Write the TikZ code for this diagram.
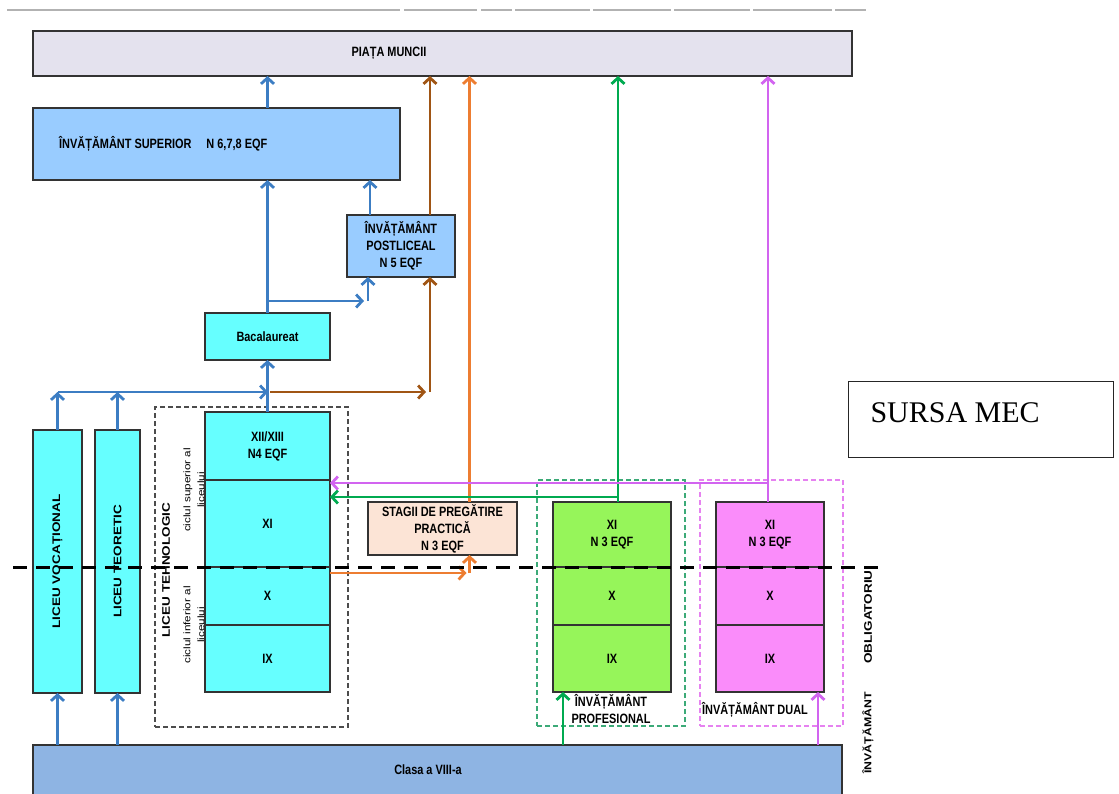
\documentclass[tikz,border=0pt]{standalone}
\usepackage{fontspec}
\setmainfont{Liberation Serif}
\setsansfont{Liberation Sans}
\newfontfamily\condfont[FakeStretch=0.81]{Liberation Sans}
\newfontfamily\widefont[FakeStretch=1.23]{Liberation Sans}
\usetikzlibrary{arrows.meta, positioning}

\definecolor{piatafill}{RGB}{228,226,238}
\definecolor{supfill}{RGB}{153,204,255}
\definecolor{cyanfill}{RGB}{102,255,255}
\definecolor{stagfill}{RGB}{252,228,214}
\definecolor{profill}{RGB}{150,245,90}
\definecolor{dualfill}{RGB}{250,140,250}
\definecolor{clasafill}{RGB}{142,180,227}
\definecolor{arblue}{RGB}{60,125,195}
\definecolor{arbrown}{RGB}{160,85,20}
\definecolor{arorange}{RGB}{237,125,49}
\definecolor{argreen}{RGB}{0,170,80}
\definecolor{arpink}{RGB}{210,100,240}
\definecolor{grpgreen}{RGB}{60,170,120}
\definecolor{grppink}{RGB}{230,130,240}

\newcommand\lblfont{\condfont\bfseries\fontsize{13.5}{17}\selectfont}
\newcommand\rotfont{\widefont\bfseries\fontsize{11}{14}\selectfont}

\tikzset{
  box/.style={draw=black!80, line width=1.8pt, anchor=north west, inner sep=0pt, outer sep=0pt, align=center, font=\lblfont},
  lbl/.style={font=\lblfont, align=center, inner sep=1pt},
  rot/.style={font=\rotfont, rotate=90, align=center, inner sep=1pt},
  cyc/.style={font=\widefont\fontsize{9.5}{14}\selectfont, rotate=90, align=center, inner sep=1pt},
  group/.style={dash pattern=on 5pt off 3pt, line width=1.3pt, anchor=north west, inner sep=0pt, outer sep=0pt},
  conn/.style={line width=2.8pt, -{Straight Barb[length=6pt,width=13pt]}},
  blu/.style={conn, draw=arblue},
  brn/.style={conn, draw=arbrown},
  org/.style={conn, draw=arorange},
  grn/.style={conn, draw=argreen},
  pnk/.style={conn, draw=arpink}
}

\begin{document}
\begin{tikzpicture}[x=1pt, y=-1pt]
\useasboundingbox (0,0) rectangle (1119,793);
% rule at the top
\foreach \a/\b in {7/400,404/477,481/512,515/590,593/671,674/750,753/832,835/866}
  \draw[gray!60, line width=1.5pt] (\a,10) -- (\b,10);

% upper boxes
\node[box, fill=piatafill, minimum width=819pt, minimum height=45pt] (piata) at (33,31) {};
\node[lbl] (piatatxt) at (389,53) {PIAȚA MUNCII};
\node[box, fill=supfill, minimum width=367pt, minimum height=72pt] (sup) at (33,108) {};
\node[lbl, anchor=west] (suptxt) at (58,144) {ÎNVĂȚĂMÂNT SUPERIOR\hspace{1.1em}N 6,7,8 EQF};
\node[box, fill=supfill, minimum width=108pt, minimum height=62pt] (post) at (347,215) {ÎNVĂȚĂMÂNT\\POSTLICEAL\\N 5 EQF};
\node[box, fill=cyanfill, minimum width=125pt, minimum height=47pt] (bac) at (205,313) {Bacalaureat};

% licee
\node[group, draw=black!70, minimum width=193pt, minimum height=320pt] (tehgrp) at (155,407) {};
\node[box, fill=cyanfill, minimum width=49pt, minimum height=263pt] (voc) at (33,430) {};
\node[rot] (voctxt) at (voc.center) {LICEU VOCAȚIONAL};
\node[box, fill=cyanfill, minimum width=45pt, minimum height=263pt] (teo) at (95,430) {};
\node[rot] (teotxt) at (teo.center) {LICEU TEORETIC};
\node[rot] (tehtxt) at (166,570) {LICEU TEHNOLOGIC};
\node[cyc] (cycsup) at (194,490) {ciclul superior al\\liceului};
\node[cyc] (cycinf) at (194,625) {ciclul inferior al\\liceului};
\node[box, fill=cyanfill, minimum width=125pt, minimum height=68pt] (t12) at (205,412) {XII/XIII\\N4 EQF};
\node[box, fill=cyanfill, minimum width=125pt, minimum height=87pt, below=0pt of t12] (t11) {XI};
\node[box, fill=cyanfill, minimum width=125pt, minimum height=58pt, below=0pt of t11] (t10) {X};
\node[box, fill=cyanfill, minimum width=125pt, minimum height=67pt, below=0pt of t10] (t9) {IX};

\node[box, fill=stagfill, minimum width=149pt, minimum height=53pt] (stag) at (368,502) {STAGII DE PREGĂTIRE\\PRACTICĂ\\N 3 EQF};

% profesional
\node[group, draw=grpgreen, minimum width=148pt, minimum height=246pt] (profgrp) at (537,480) {};
\node[box, fill=profill, minimum width=118pt, minimum height=65pt] (p11) at (553,502) {XI\\N 3 EQF};
\node[box, fill=profill, minimum width=118pt, minimum height=58pt, below=0pt of p11] (p10) {X};
\node[box, fill=profill, minimum width=118pt, minimum height=67pt, below=0pt of p10] (p9) {IX};
\node[lbl] (proftxt) at (611,709) {ÎNVĂȚĂMÂNT\\PROFESIONAL};

% dual
\node[group, draw=grppink, minimum width=143pt, minimum height=246pt] (dualgrp) at (700,480) {};
\node[box, fill=dualfill, minimum width=108pt, minimum height=65pt] (d11) at (716,502) {XI\\N 3 EQF};
\node[box, fill=dualfill, minimum width=108pt, minimum height=58pt, below=0pt of d11] (d10) {X};
\node[box, fill=dualfill, minimum width=108pt, minimum height=67pt, below=0pt of d10] (d9) {IX};
\node[lbl] (dualtxt) at (755,710) {ÎNVĂȚĂMÂNT DUAL};

\node[box, fill=clasafill, minimum width=809pt, minimum height=60pt] (clasa) at (33,745) {};
\node[lbl] (clasatxt) at (428,770) {Clasa a VIII-a};

\node[rot, font=\widefont\bfseries\fontsize{11}{12}\selectfont] (oblig) at (868,617) {OBLIGATORIU};
\node[rot, font=\widefont\bfseries\fontsize{10}{12}\selectfont] (invat) at (868,733) {ÎNVĂȚĂMÂNT};

\node[draw=black!85, line width=1pt, anchor=north west, minimum width=265pt, minimum height=76pt] (src) at (848,381) {};
\node[anchor=west, font=\fontsize{30}{30}\selectfont] (srctxt) at (867,413) {SURSA MEC};

% named points
\coordinate (jn) at (268,392);
\coordinate (br) at (268,301);
\coordinate (pin) at ([xshift=-33pt]post.south);
\coordinate (pinb) at (pin |- br);
\coordinate (pout) at ([xshift=-31pt]post.north);
\coordinate (bout) at ([xshift=29pt]post.north);
\coordinate (bin) at ([xshift=29pt]post.south);
\coordinate (bcor) at (bin |- jn);
\coordinate (oin) at ([xshift=27pt]stag.south);
\coordinate (oout) at ([xshift=27pt]stag.north);
\coordinate (ox) at ([yshift=-6pt]t10.north east);
\coordinate (ocor) at (oin |- ox);
\coordinate (gout) at ([xshift=6pt]p11.north);
\coordinate (gj) at ([yshift=5pt]gout);
\coordinate (gin) at ([xshift=10pt]p9.south west);
\coordinate (kout) at ([xshift=-2pt]d11.north);
\coordinate (kj) at ([yshift=19pt]kout);
\coordinate (kin) at ([xshift=-6pt]d9.south east);

% blue
\draw[blu] (sup.north -| bac.north) -- (piata.south -| bac.north);
\draw[blu] (bac.north) -- (bac.north |- sup.south);
\draw[blu] (br) -- ([xshift=-4pt]pinb);
\draw[blu] (pinb) -- (pin);
\draw[blu] (pout) -- (pout |- sup.south);
\draw[blu] (t12.north) -- (bac.south);
\draw[blu] (voc.north) -- (voc.north |- jn);
\draw[blu] (teo.north) -- (teo.north |- jn);
\draw[blu] (voc.north |- jn) -- (jn);
\draw[blu] (clasa.north -| voc.south) -- (voc.south);
\draw[blu] (clasa.north -| teo.south) -- (teo.south);

% brown
\draw[brn] (bout) -- (bout |- piata.south);
\draw[brn] ([xshift=2pt]jn) -- ([xshift=-4pt]bcor);
\draw[brn] (bcor) -- (bin);

% orange
\draw[org] (ox) -- ([xshift=-3pt]ocor);
\draw[org] (ocor) -- (oin);
\draw[org] (oout) -- (oout |- piata.south);

% green
\draw[grn] (gout) -- (gout |- piata.south);
\draw[grn] (gj) -- (gj -| t11.east);
\draw[grn] (gin |- clasa.north) -- (gin);

% pink
\draw[pnk] (kout) -- (kout |- piata.south);
\draw[pnk] (kj) -- (kj -| t11.east);
\draw[pnk] (kin |- clasa.north) -- (kin);

% limit of compulsory education
\draw[black, line width=3pt, dash pattern=on 14pt off 9pt] (13,567) -- (878,567);
\end{tikzpicture}
\end{document}
